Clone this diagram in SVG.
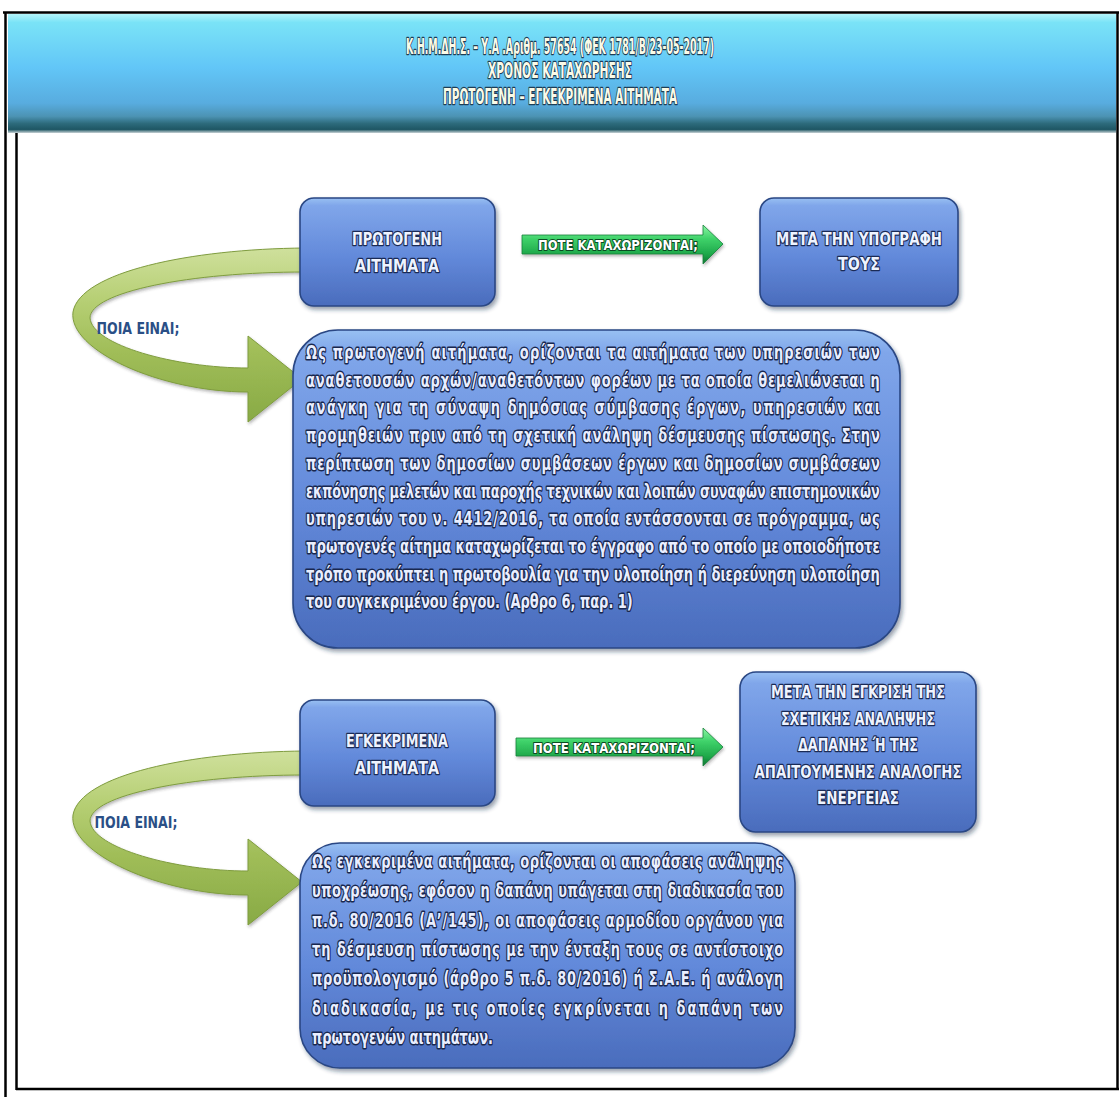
<svg xmlns="http://www.w3.org/2000/svg" width="1119" height="1097" viewBox="0 0 1119 1097">
<defs>
  <linearGradient id="hdrGrad" x1="0" y1="0" x2="0" y2="1">
    <stop offset="0" stop-color="#b4f5fb"/>
    <stop offset="0.07" stop-color="#7ae3f7"/>
    <stop offset="0.45" stop-color="#62c6f7"/>
    <stop offset="0.75" stop-color="#58acdf"/>
    <stop offset="0.86" stop-color="#4c93b3"/>
    <stop offset="0.92" stop-color="#2d6b7c"/>
    <stop offset="0.97" stop-color="#1e5664"/>
    <stop offset="1" stop-color="#c7d2d5"/>
  </linearGradient>
  <linearGradient id="boxGrad" x1="0" y1="0" x2="0" y2="1">
    <stop offset="0" stop-color="#98c0f2"/>
    <stop offset="0.07" stop-color="#80a6ea"/>
    <stop offset="0.55" stop-color="#6289da"/>
    <stop offset="1" stop-color="#4a6cbc"/>
  </linearGradient>
  <linearGradient id="greenGrad" x1="0" y1="0" x2="0" y2="1">
    <stop offset="0" stop-color="#8cf5a4"/>
    <stop offset="0.35" stop-color="#3fd26a"/>
    <stop offset="0.75" stop-color="#1ea84a"/>
    <stop offset="1" stop-color="#0f7433"/>
  </linearGradient>
  <linearGradient id="ribbonGrad" x1="0" y1="0" x2="0" y2="1">
    <stop offset="0" stop-color="#cfe09c"/>
    <stop offset="0.3" stop-color="#b6cf74"/>
    <stop offset="0.6" stop-color="#a0bd58"/>
    <stop offset="1" stop-color="#88aa45"/>
  </linearGradient>
  <filter id="shadow" x="-10%" y="-10%" width="125%" height="130%">
    <feDropShadow dx="2" dy="3" stdDeviation="2" flood-color="#1a2a4a" flood-opacity="0.45"/>
  </filter>
  <filter id="softShadow" x="-10%" y="-20%" width="125%" height="150%">
    <feDropShadow dx="1" dy="2" stdDeviation="1.5" flood-color="#333" flood-opacity="0.35"/>
  </filter>
</defs>
<style>
  .frame { fill: none; stroke: #000; stroke-width: 2.5; }
  .box { fill: url(#boxGrad); stroke: #2a4784; stroke-width: 1.6; filter: url(#shadow); }
  .ribbon { fill: url(#ribbonGrad); stroke: #7f9c3f; stroke-width: 1; filter: url(#softShadow); }
  .garrow { fill: url(#greenGrad); stroke: #14803a; stroke-width: 0.8; filter: url(#softShadow); }
  text { font-family: "Liberation Sans Narrow", "DejaVu Sans Condensed", "Liberation Sans", sans-serif; font-weight: bold; }
  .hdr { font-size: 21px; fill: #fbfbe8; stroke: #1e3d55; stroke-width: 2.4; paint-order: stroke; stroke-linejoin: round; text-anchor: middle; }
  .lbl { font-size: 18px; fill: #eef3ff; stroke: #1a2a55; stroke-width: 2.4; paint-order: stroke; stroke-linejoin: round; text-anchor: middle; }
  .body { font-size: 19px; fill: #e9eeff; stroke: #18274f; stroke-width: 2.8; paint-order: stroke; stroke-linejoin: round; }
  .atxt { font-size: 14px; fill: #ffffff; stroke: #0b4a22; stroke-width: 2; paint-order: stroke; stroke-linejoin: round; text-anchor: middle; }
  .q { font-size: 16px; fill: #2a4f86; }
</style>

<rect x="0" y="0" width="1119" height="1097" fill="#ffffff"/>

<g id="header">
  <rect x="8" y="14" width="1108" height="119" fill="url(#hdrGrad)"/>
  <text class="hdr" x="560" y="54" textLength="308" lengthAdjust="spacingAndGlyphs">Κ.Η.Μ.ΔΗ.Σ. – Υ.Α .Αριθμ. 57654 (ΦΕΚ 1781/Β/23-05-2017)</text>
  <text class="hdr" x="560" y="78" textLength="144" lengthAdjust="spacingAndGlyphs">ΧΡΟΝΟΣ ΚΑΤΑΧΩΡΗΣΗΣ</text>
  <text class="hdr" x="560" y="104" textLength="234" lengthAdjust="spacingAndGlyphs">ΠΡΩΤΟΓΕΝΗ – ΕΓΚΕΚΡΙΜΕΝΑ ΑΙΤΗΜΑΤΑ</text>
</g>

<g id="frame">
  <line class="frame" x1="3" y1="12.5" x2="1119" y2="12.5"/>
  <line class="frame" x1="5.5" y1="12" x2="5.5" y2="1097"/>
  <line class="frame" x1="1117.5" y1="12" x2="1117.5" y2="1090"/>
  <line class="frame" x1="16.5" y1="133" x2="16.5" y2="1090"/>
  <line class="frame" x1="16" y1="1089" x2="1119" y2="1089"/>
</g>

<g id="connectors">
  <path class="ribbon" d="M305,248 C190,249 80,272 73,312 C68,350 160,392 248,392 L248,422 L302,379 L248,336 L248,368 C175,368 92,345 90,318 C90,292 190,272 305,272 Z"/>
  <text class="q" x="138" y="334" text-anchor="middle" textLength="83" lengthAdjust="spacingAndGlyphs">ΠΟΙΑ ΕΙΝΑΙ;</text>
  <path class="garrow" d="M522,235 L703,235 L703,225 L723,244 L703,264 L703,254 L522,254 Z"/>
  <text class="atxt" x="618" y="249.5" textLength="160" lengthAdjust="spacingAndGlyphs">ΠΟΤΕ ΚΑΤΑΧΩΡΙΖΟΝΤΑΙ;</text>

  <path class="ribbon" d="M305,751 C190,752 80,775 73,815 C68,853 160,895 248,895 L248,925 L302,882 L248,839 L248,871 C175,871 92,848 90,821 C90,795 190,775 305,775 Z"/>
  <text class="q" x="136" y="828" text-anchor="middle" textLength="83" lengthAdjust="spacingAndGlyphs">ΠΟΙΑ ΕΙΝΑΙ;</text>
  <path class="garrow" d="M516,738 L703,738 L703,728 L723,747 L703,766 L703,756 L516,756 Z"/>
  <text class="atxt" x="614" y="752.5" textLength="162" lengthAdjust="spacingAndGlyphs">ΠΟΤΕ ΚΑΤΑΧΩΡΙΖΟΝΤΑΙ;</text>
</g>

<g id="node-primary">
  <rect class="box" x="300" y="198" width="195" height="108" rx="14"/>
  <text class="lbl" x="397" y="245" textLength="90" lengthAdjust="spacingAndGlyphs">ΠΡΩΤΟΓΕΝΗ</text>
  <text class="lbl" x="397" y="272" textLength="84" lengthAdjust="spacingAndGlyphs">ΑΙΤΗΜΑΤΑ</text>
</g>

<g id="node-after-signature">
  <rect class="box" x="760" y="198" width="198" height="108" rx="14"/>
  <text class="lbl" x="859" y="245" textLength="166" lengthAdjust="spacingAndGlyphs">ΜΕΤΑ ΤΗΝ ΥΠΟΓΡΑΦΗ</text>
  <text class="lbl" x="859" y="270" textLength="42" lengthAdjust="spacingAndGlyphs">ΤΟΥΣ</text>
</g>

<g id="node-primary-definition">
  <rect class="box" x="293" y="330" width="607" height="318" rx="45"/>
  <text class="body" transform="translate(306,359) scale(0.76,1)" textLength="755" lengthAdjust="spacing">Ως πρωτογενή αιτήματα, ορίζονται τα αιτήματα των υπηρεσιών των</text>
  <text class="body" transform="translate(306,386.7) scale(0.76,1)" textLength="755" lengthAdjust="spacing">αναθετουσών αρχών/αναθετόντων φορέων με τα οποία θεμελιώνεται η</text>
  <text class="body" transform="translate(306,414.4) scale(0.76,1)" textLength="755" lengthAdjust="spacing">ανάγκη για τη σύναψη δημόσιας σύμβασης έργων, υπηρεσιών και</text>
  <text class="body" transform="translate(306,442.1) scale(0.76,1)" textLength="755" lengthAdjust="spacing">προμηθειών πριν από τη σχετική ανάληψη δέσμευσης πίστωσης. Στην</text>
  <text class="body" transform="translate(306,469.8) scale(0.76,1)" textLength="755" lengthAdjust="spacing">περίπτωση των δημοσίων συμβάσεων έργων και δημοσίων συμβάσεων</text>
  <text class="body" transform="translate(306,497.5) scale(0.76,1)" textLength="755" lengthAdjust="spacingAndGlyphs">εκπόνησης μελετών και παροχής τεχνικών και λοιπών συναφών επιστημονικών</text>
  <text class="body" transform="translate(306,525.2) scale(0.76,1)" textLength="755" lengthAdjust="spacing">υπηρεσιών του ν. 4412/2016, τα οποία εντάσσονται σε πρόγραμμα, ως</text>
  <text class="body" transform="translate(306,552.9) scale(0.76,1)" textLength="755" lengthAdjust="spacingAndGlyphs">πρωτογενές αίτημα καταχωρίζεται το έγγραφο από το οποίο με οποιοδήποτε</text>
  <text class="body" transform="translate(306,580.6) scale(0.76,1)" textLength="755" lengthAdjust="spacingAndGlyphs">τρόπο προκύπτει η πρωτοβουλία για την υλοποίηση ή διερεύνηση υλοποίηση</text>
  <text class="body" transform="translate(306,608.3) scale(0.76,1)">του συγκεκριμένου έργου. (Αρθρο 6, παρ. 1)</text>
</g>

<g id="node-approved">
  <rect class="box" x="300" y="700" width="195" height="106" rx="14"/>
  <text class="lbl" x="397" y="747" textLength="102" lengthAdjust="spacingAndGlyphs">ΕΓΚΕΚΡΙΜΕΝΑ</text>
  <text class="lbl" x="397" y="774" textLength="84" lengthAdjust="spacingAndGlyphs">ΑΙΤΗΜΑΤΑ</text>
</g>

<g id="node-after-approval">
  <rect class="box" x="740" y="672" width="236" height="160" rx="16"/>
  <text class="lbl" x="858" y="698" textLength="174" lengthAdjust="spacingAndGlyphs">ΜΕΤΑ ΤΗΝ ΕΓΚΡΙΣΗ ΤΗΣ</text>
  <text class="lbl" x="858" y="724.5" textLength="154" lengthAdjust="spacingAndGlyphs">ΣΧΕΤΙΚΗΣ ΑΝΑΛΗΨΗΣ</text>
  <text class="lbl" x="858" y="751" textLength="120" lengthAdjust="spacingAndGlyphs">ΔΑΠΑΝΗΣ  Ή ΤΗΣ</text>
  <text class="lbl" x="858" y="777.5" textLength="207" lengthAdjust="spacingAndGlyphs">ΑΠΑΙΤΟΥΜΕΝΗΣ ΑΝΑΛΟΓΗΣ</text>
  <text class="lbl" x="858" y="804" textLength="82" lengthAdjust="spacingAndGlyphs">ΕΝΕΡΓΕΙΑΣ</text>
</g>

<g id="node-approved-definition">
  <rect class="box" x="300" y="843" width="495" height="225" rx="40"/>
  <text class="body" transform="translate(312,868) scale(0.76,1)" textLength="620" lengthAdjust="spacing">Ως εγκεκριμένα αιτήματα, ορίζονται οι αποφάσεις ανάληψης</text>
  <text class="body" transform="translate(312,897.3) scale(0.76,1)" textLength="620" lengthAdjust="spacing">υποχρέωσης, εφόσον η δαπάνη υπάγεται στη διαδικασία του</text>
  <text class="body" transform="translate(312,926.6) scale(0.76,1)" textLength="620" lengthAdjust="spacing">π.δ. 80/2016 (Α’/145), οι αποφάσεις αρμοδίου οργάνου για</text>
  <text class="body" transform="translate(312,955.9) scale(0.76,1)" textLength="620" lengthAdjust="spacing">τη δέσμευση πίστωσης με την ένταξη τους σε αντίστοιχο</text>
  <text class="body" transform="translate(312,985.2) scale(0.76,1)" textLength="620" lengthAdjust="spacing">προϋπολογισμό (άρθρο 5 π.δ. 80/2016) ή Σ.Α.Ε. ή ανάλογη</text>
  <text class="body" transform="translate(312,1014.5) scale(0.76,1)" textLength="620" lengthAdjust="spacing">διαδικασία, με τις οποίες εγκρίνεται η δαπάνη των</text>
  <text class="body" transform="translate(312,1043.8) scale(0.76,1)">πρωτογενών αιτημάτων.</text>
</g>
</svg>
